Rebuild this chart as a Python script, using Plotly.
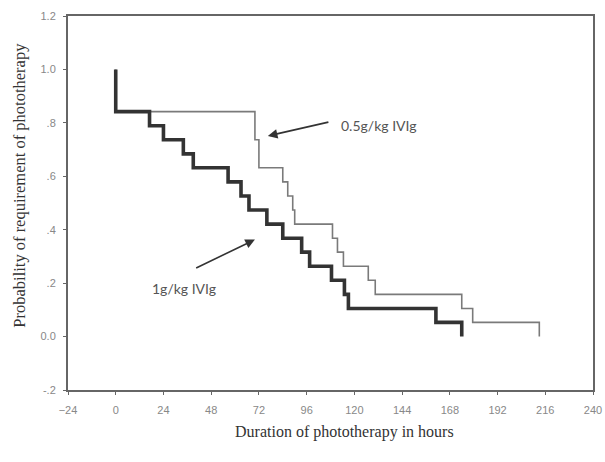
import plotly.graph_objects as go

# 1 g/kg IVIg (thick line)
t_1g = [0, 0, 17, 24, 34, 39, 56.5, 63, 67, 76, 84, 93.5, 97.5, 108.5, 115, 117, 161, 174]
p_1g = [1.0, 0.842, 0.789, 0.737, 0.684, 0.632, 0.579, 0.526, 0.474, 0.421, 0.368,
        0.316, 0.263, 0.211, 0.158, 0.105, 0.053, 0.0]

# 0.5 g/kg IVIg (thin line)
t_05g = [0, 0, 70, 72, 84, 86.5, 89, 90, 109, 111.5, 114.5, 127, 130.5, 174, 179.5, 213]
p_05g = [1.0, 0.842, 0.737, 0.632, 0.579, 0.526, 0.474, 0.421, 0.368, 0.316, 0.263,
         0.211, 0.158, 0.105, 0.053, 0.0]

x_ticks = [-24, 0, 24, 48, 72, 96, 120, 144, 168, 192, 216, 240]
y_ticks = [-0.2, 0.0, 0.2, 0.4, 0.6, 0.8, 1.0, 1.2]
y_labels = ["-.2", "0.0", ".2", ".4", ".6", ".8", "1.0", "1.2"]

x_title = "Duration of phototherapy in hours"
y_title = "Probability of requirement of phototherapy"

fig = go.Figure()
fig.add_trace(go.Scatter(x=t_05g, y=p_05g, mode="lines", line_shape="hv",
                         line=dict(color="#7a7a7a", width=1.6), showlegend=False))
fig.add_trace(go.Scatter(x=t_1g, y=p_1g, mode="lines", line_shape="hv",
                         line=dict(color="#333333", width=3.6), showlegend=False))

ann_font = dict(family="Lato, Noto Sans, sans-serif", size=14, color="#555555")
fig.add_annotation(x=76.5, y=0.751, ax=107.7, ay=0.804, xref="x", yref="y",
                   axref="x", ayref="y", text="", showarrow=True, arrowhead=2,
                   arrowsize=1.2, arrowwidth=1.6, arrowcolor="#333333")
fig.add_annotation(x=112.5, y=0.789, xref="x", yref="y", text="0.5g/kg IVIg",
                   showarrow=False, xanchor="left", yanchor="middle", font=ann_font)
fig.add_annotation(x=70, y=0.363, ax=39.7, ay=0.254, xref="x", yref="y",
                   axref="x", ayref="y", text="", showarrow=True, arrowhead=2,
                   arrowsize=1.2, arrowwidth=1.6, arrowcolor="#333333")
fig.add_annotation(x=17, y=0.179, xref="x", yref="y", text="1g/kg IVIg",
                   showarrow=False, xanchor="left", yanchor="middle", font=ann_font)

title_font = dict(family="Liberation Serif, Times New Roman, serif", size=16,
                  color="#333333")
fig.add_annotation(x=0.5276, y=-0.112, xref="paper", yref="paper", text=x_title,
                   showarrow=False, xanchor="center", yanchor="middle", font=title_font)
fig.add_annotation(x=-0.094, y=0.548, xref="paper", yref="paper", text=y_title,
                   showarrow=False, textangle=-90, xanchor="center", yanchor="middle",
                   font=dict(title_font, size=16.5))

axis_common = dict(showgrid=False, zeroline=False, showline=True, linecolor="#666666",
                   linewidth=2, mirror=True, ticks="outside", ticklen=3,
                   tickcolor="#666666", automargin=False,
                   tickfont=dict(family="Liberation Sans, Arial, sans-serif", size=11,
                                 color="#888888"))

fig.update_xaxes(range=[-24, 240], tickvals=x_ticks, ticklabelstandoff=6, **axis_common)
fig.update_yaxes(range=[-0.2, 1.2], tickvals=y_ticks, ticktext=y_labels,
                 ticklabelstandoff=5, **axis_common)

fig.update_layout(width=605, height=462, margin=dict(l=68, r=12, t=16, b=72),
                  plot_bgcolor="white", paper_bgcolor="white")

fig.write_html("out.html", config={"displayModeBar": False},
               post_script="document.body.style.margin='0';"
                           "document.body.style.overflow='hidden';")
